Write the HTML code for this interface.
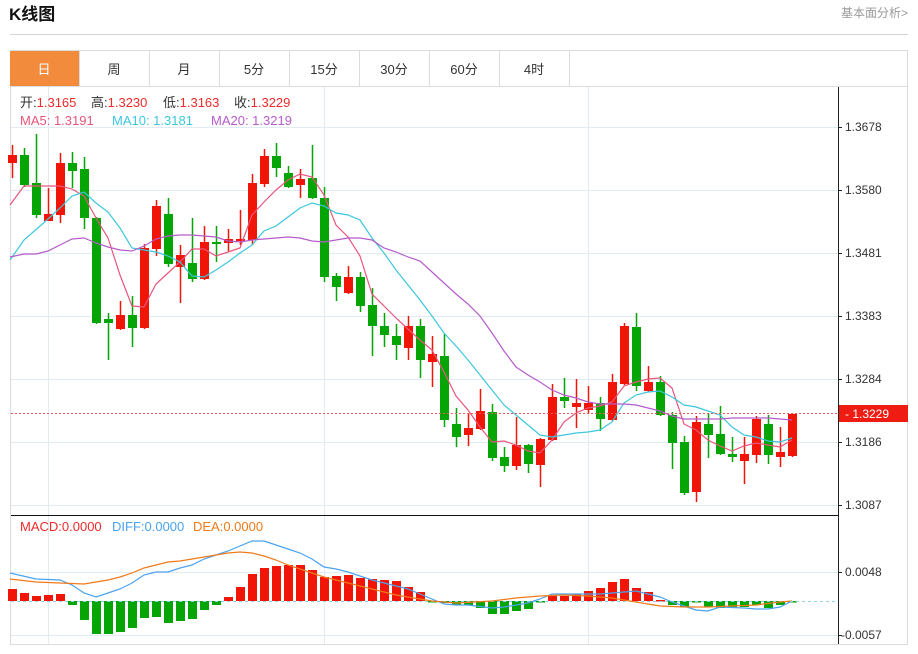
<!DOCTYPE html>
<html><head><meta charset="utf-8"><style>
body{margin:0;background:#fff;width:918px;height:649px;overflow:hidden;font-family:"Liberation Sans","Noto Sans CJK SC",sans-serif}
</style></head><body>
<svg id="s" width="918" height="649" xmlns="http://www.w3.org/2000/svg" font-family="Liberation Sans, Noto Sans CJK SC, sans-serif">
<text x="9" y="20" font-size="17" font-weight="bold" fill="#111">K线图</text>
<text x="908" y="17" font-size="12" fill="#999" text-anchor="end">基本面分析&gt;</text>
<line x1="10" y1="34.5" x2="908" y2="34.5" stroke="#d5d5d5"/>
<rect x="10.5" y="50.5" width="897" height="594" fill="none" stroke="#dcdcdc"/>
<line x1="10" y1="86.5" x2="908" y2="86.5" stroke="#dcdcdc"/>
<rect x="10" y="51" width="69" height="35" fill="#f28c3c"/>
<g font-size="13" fill="#333" text-anchor="middle">
<text x="44" y="74" fill="#fff">日</text><text x="114" y="74">周</text><text x="184" y="74">月</text><text x="254" y="74">5分</text><text x="324" y="74">15分</text><text x="394" y="74">30分</text><text x="464" y="74">60分</text><text x="534" y="74">4时</text>
</g>
<g stroke="#dcdcdc"><line x1="79.5" y1="51" x2="79.5" y2="86"/><line x1="149.5" y1="51" x2="149.5" y2="86"/><line x1="219.5" y1="51" x2="219.5" y2="86"/><line x1="289.5" y1="51" x2="289.5" y2="86"/><line x1="359.5" y1="51" x2="359.5" y2="86"/><line x1="429.5" y1="51" x2="429.5" y2="86"/><line x1="499.5" y1="51" x2="499.5" y2="86"/><line x1="569.5" y1="51" x2="569.5" y2="86"/></g>
<g stroke="#e1ebf2">
<line x1="11" y1="127.5" x2="838" y2="127.5"/><line x1="11" y1="190.5" x2="838" y2="190.5"/><line x1="11" y1="253.5" x2="838" y2="253.5"/><line x1="11" y1="316.5" x2="838" y2="316.5"/><line x1="11" y1="379.5" x2="838" y2="379.5"/><line x1="11" y1="442.5" x2="838" y2="442.5"/><line x1="11" y1="505.5" x2="838" y2="505.5"/>
<line x1="11" y1="572.5" x2="838" y2="572.5"/><line x1="11" y1="635.5" x2="838" y2="635.5"/>
<line x1="48.5" y1="87" x2="48.5" y2="644"/><line x1="324.5" y1="87" x2="324.5" y2="644"/><line x1="588.5" y1="87" x2="588.5" y2="644"/>
</g>
<line x1="11" y1="515.5" x2="838" y2="515.5" stroke="#111"/>
<line x1="838.5" y1="87" x2="838.5" y2="644" stroke="#222"/>
<g font-size="12" fill="#333">
<text x="845" y="131">1.3678</text><text x="845" y="194">1.3580</text><text x="845" y="257">1.3481</text><text x="845" y="320">1.3383</text><text x="845" y="383">1.3284</text><text x="845" y="446">1.3186</text><text x="845" y="509">1.3087</text>
<text x="845" y="576">0.0048</text><text x="841" y="639">-0.0057</text>
</g>
<g stroke="#222"><line x1="838" y1="127.5" x2="842" y2="127.5"/><line x1="838" y1="190.5" x2="842" y2="190.5"/><line x1="838" y1="253.5" x2="842" y2="253.5"/><line x1="838" y1="316.5" x2="842" y2="316.5"/><line x1="838" y1="379.5" x2="842" y2="379.5"/><line x1="838" y1="442.5" x2="842" y2="442.5"/><line x1="838" y1="505.5" x2="842" y2="505.5"/><line x1="838" y1="572.5" x2="842" y2="572.5"/><line x1="838" y1="635.5" x2="842" y2="635.5"/></g>
<g id="c"></g>
<line x1="11" y1="413.5" x2="838" y2="413.5" stroke="#f05a5a" stroke-dasharray="2,2"/>
<rect x="839" y="405" width="69" height="17" fill="#ee1c12"/>
<text x="845" y="418" font-size="12" fill="#fff">- 1.3229</text>
<line x1="790" y1="601.5" x2="838" y2="601.5" stroke="#8fd0ea" stroke-dasharray="3,3"/>
<g font-size="13">
<text x="20" y="107" fill="#333">开:<tspan fill="#ee2a2a">1.3165</tspan></text>
<text x="91" y="107" fill="#333">高:<tspan fill="#ee2a2a">1.3230</tspan></text>
<text x="163" y="107" fill="#333">低:<tspan fill="#ee2a2a">1.3163</tspan></text>
<text x="234" y="107" fill="#333">收:<tspan fill="#ee2a2a">1.3229</tspan></text>
<text x="20" y="125" fill="#e9557c">MA5: 1.3191</text>
<text x="112" y="125" fill="#3cc7dd">MA10: 1.3181</text>
<text x="211" y="125" fill="#b55ccb">MA20: 1.3219</text>
<text x="20" y="531" fill="#ee2a2a">MACD:0.0000</text>
<text x="112" y="531" fill="#4aa3f0">DIFF:0.0000</text>
<text x="193" y="531" fill="#f07a1a">DEA:0.0000</text>
</g>
</svg>
<script>
var K=[[155,163,145,178,1],[155,185,148,187,0],[183,215,134,218,0],[214,221,188,221,1],[163,215,153,223,1],[163,171,152,188,0],[169,218,157,229,0],[218,323,217,324,0],[319,323,313,360,0],[315,329,301,330,1],[315,328,296,347,0],[248,328,244,329,1],[206,249,200,256,1],[214,264,198,267,0],[255,267,245,303,1],[263,279,218,282,0],[242,279,226,280,1],[242,244,226,262,0],[239,243,229,251,1],[239,241,210,245,1],[183,240,174,245,1],[156,184,149,187,1],[156,168,143,177,0],[173,187,166,188,0],[179,185,169,198,1],[178,198,145,199,0],[198,277,187,282,0],[276,287,273,301,0],[277,293,266,294,1],[277,306,272,312,0],[305,326,288,356,0],[326,335,313,347,0],[336,345,324,360,0],[326,348,316,360,1],[326,360,319,378,0],[354,362,336,387,1],[356,420,334,427,0],[424,437,408,447,0],[428,435,413,446,1],[411,429,389,430,1],[412,458,404,461,0],[457,466,447,472,0],[445,466,417,470,1],[445,464,444,473,0],[439,465,438,487,1],[397,440,384,441,1],[397,401,378,408,0],[403,407,379,428,1],[403,410,386,414,1],[403,419,397,431,0],[382,420,374,421,1],[326,384,323,385,1],[327,386,313,391,0],[382,391,366,392,1],[382,415,376,416,0],[415,443,412,469,0],[442,493,436,495,0],[422,492,416,502,1],[424,435,413,458,0],[434,454,406,455,0],[454,457,437,462,0],[454,461,437,484,1],[419,455,416,463,1],[424,455,415,464,0],[452,457,427,467,1],[414,456,413,457,1]];
var M=[589,593,596,595,594,605,620,634,634,632,628,618,617,623,621,619,610,605,597,587,574,568,566,565,565,570,577,576,575,578,579,580,581,587,592,602,603,605,605,608,614,614,611,609,602,596,596,594,591,588,582,579,588,592,600,605,607,602,607,608,608,607,605,608,605,602];
var h='';
K.forEach(function(k,i){var x=12+12*i,c=k[4]?'#f01506':'#05a505';
h+='<line x1="'+(x+.5)+'" y1="'+k[2]+'" x2="'+(x+.5)+'" y2="'+k[3]+'" stroke="'+c+'" stroke-width="1.5"/>';
h+='<rect x="'+(x-4)+'" y="'+k[0]+'" width="9" height="'+Math.max(2,k[1]-k[0])+'" fill="'+c+'"/>';});
M.forEach(function(m,i){var x=12+12*i,z=601;var up=m<z;var c=up?'#f01506':'#05a505';
h+='<rect x="'+(x-4)+'" y="'+(up?m:z)+'" width="9" height="'+Math.max(1.5,Math.abs(m-z))+'" fill="'+c+'"/>';});
function pl(s,c){return '<polyline points="'+s+'" fill="none" stroke="'+c+'" stroke-width="1.2"/>';}
h+='<line x1="11" y1="601.5" x2="790" y2="601.5" stroke="#8fd0ea" stroke-dasharray="3,3"/>';
h+=pl("10,205 24,186 48,186 60,186 72,189 84,196 96,218 108,238 120,275 132,306 144,307 156,284 168,273 180,262 192,249 204,249 216,256 228,252 240,248 252,215 264,202 276,190 288,180 300,174 312,177 324,195 336,225 348,237 360,256 372,294 384,306 396,318 408,329 420,340 432,350 444,372 456,396 468,410 480,427 492,442 504,441 516,445 528,451 540,453 552,440 564,422 576,413 588,408 600,406 612,402 624,386 636,382 648,379 660,378 672,388 684,424 696,430 708,440 720,446 732,451 744,446 756,443 768,445 780,447 792,440","#e9557c");
h+=pl("10,260 24,240 48,219 60,208 72,196 84,192 96,203 108,212 120,228 132,248 144,250 156,252 168,256 180,262 192,276 204,277 216,270 228,262 240,253 252,245 264,231 276,226 288,217 300,208 312,203 324,206 336,213 348,215 360,220 372,238 384,253 396,270 408,285 420,300 432,316 444,333 456,346 468,360 480,375 492,390 504,405 516,415 528,425 540,435 552,437 564,435 576,433 588,432 600,430 612,422 624,403 636,395 648,392 660,391 672,397 684,405 696,407 708,411 720,415 732,427 744,435 756,437 768,441 780,442 792,438","#3cc7dd");
h+=pl("10,257 24,254 36,254 48,251 60,245 72,239 84,238 96,243 108,247 120,250 132,251 144,246 156,239 168,236 180,235 192,235 204,236 216,237 228,241 240,242 252,240 264,239 276,238 288,237 300,238 312,241 324,242 336,240 348,238 360,238 372,240 384,248 396,252 408,257 420,261 432,272 444,283 456,294 468,304 480,316 492,333 504,351 516,367 528,375 540,382 552,390 564,395 576,398 588,402 600,404 612,404 624,404 636,405 648,408 660,411 672,416 684,419 696,419 708,419 720,419 732,418 744,418 756,418 768,418 780,419 792,420","#b55ccb");
h+=pl("10,573 36,579 60,580 72,585 84,593 96,597 108,593 120,589 132,583 144,575 156,572 168,572 180,568 192,565 204,559 216,555 228,551 240,546 252,541 264,541 276,545 288,549 300,553 312,559 324,567 336,569 348,572 360,576 372,580 384,583 396,586 408,589 420,594 432,599 444,604 456,605 468,605 492,608 504,607 528,603 540,599 552,594 576,594 600,594 612,593 624,592 636,591 660,597 672,602 684,606 696,610 708,611 720,607 744,608 756,609 768,609 780,607 792,601","#4aa3f0");
h+=pl("10,579 36,582 60,583 84,584 96,582 108,580 120,577 132,573 144,568 156,565 168,562 180,561 192,559 204,557 216,555 228,553 240,552 252,553 264,556 276,560 288,565 300,569 312,573 324,577 336,580 348,583 360,586 372,589 384,592 396,595 408,597 420,599 432,601 444,602 456,603 492,601 516,598 540,596 564,595 588,596 612,598 636,602 660,606 684,607 708,607 732,606 756,605 780,602 792,601","#f07a1a");
document.getElementById('c').innerHTML=h;
</script>
</body></html>
